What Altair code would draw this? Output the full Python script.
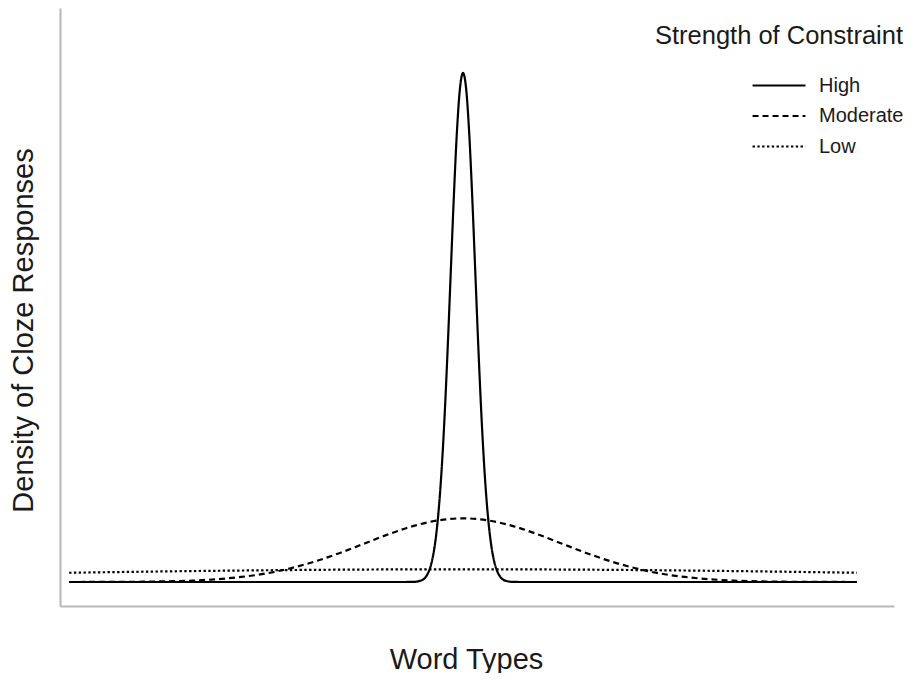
import altair as alt
import pandas as pd

# Series (x in "word type" units, y in density units)
high_x = [-32, -8, -5, -4, -3.5, -3, -2.75, -2.5, -2.25, -2, -1.75, -1.5, -1.25, -1, -0.75, -0.5, -0.25,
          0, 0.25, 0.5, 0.75, 1, 1.25, 1.5, 1.75, 2, 2.25, 2.5, 2.75, 3, 3.5, 4, 5, 8, 32]
high_y = [0.0, 0.0, 0.0, 0.00013, 0.00087, 0.0044, 0.0091, 0.0175, 0.0317, 0.0540, 0.0863, 0.1295, 0.1826,
          0.2420, 0.3011, 0.3521, 0.3867,
          0.3989, 0.3867, 0.3521, 0.3011, 0.2420, 0.1826, 0.1295, 0.0863, 0.0540, 0.0317, 0.0175, 0.0091,
          0.0044, 0.00087, 0.00013, 0.0, 0.0, 0.0]

moderate_x = [-32, -30, -28, -26, -24, -22, -20, -18, -16, -14, -12, -10, -8, -6, -4, -2,
              0, 2, 4, 6, 8, 10, 12, 14, 16, 18, 20, 22, 24, 26, 28, 30, 32]
moderate_y = [0.00002, 0.00004, 0.00011, 0.00025, 0.00055, 0.0011, 0.0022, 0.0040, 0.0067, 0.0108,
              0.0162, 0.0228, 0.0302, 0.0376, 0.0440, 0.0483,
              0.0499, 0.0483, 0.0440, 0.0376, 0.0302, 0.0228, 0.0162, 0.0108, 0.0067, 0.0040,
              0.0022, 0.0011, 0.00055, 0.00025, 0.00011, 0.00004, 0.00002]

low_x = [-32, -24, -16, -8, 0, 8, 16, 24, 32]
low_y = [0.00724, 0.00833, 0.00920, 0.00977, 0.00997, 0.00977, 0.00920, 0.00833, 0.00724]

series_names = ["High", "Moderate", "Low"]

rows = []
for name, xs, ys in [("High", high_x, high_y), ("Moderate", moderate_x, moderate_y), ("Low", low_x, low_y)]:
    for xv, yv in zip(xs, ys):
        rows.append({"x": xv, "y": yv, "series": name})
df = pd.DataFrame(rows)

FONT = "Liberation Sans"
TEXT = "#1a1a1a"
AXIS_GRAY = "#b7b7b7"

chart = alt.Chart(df).mark_line(
    color="black", strokeWidth=2.2, interpolate="monotone"
).encode(
    x=alt.X("x:Q",
            scale=alt.Scale(domain=[-32.74, 35.01], nice=False, zero=False),
            axis=alt.Axis(title="Word Types", domain=True, domainColor=AXIS_GRAY, domainWidth=2,
                          ticks=False, labels=False, grid=False,
                          titleFont=FONT, titleFontSize=29, titleFontWeight="normal", titleColor=TEXT,
                          titleX=406, titleY=62, titleBaseline="alphabetic", titleAlign="center")),
    y=alt.Y("y:Q",
            scale=alt.Scale(domain=[-0.0188, 0.4498], nice=False, zero=False),
            axis=alt.Axis(title="Density of Cloze Responses", domain=True, domainColor=AXIS_GRAY,
                          domainWidth=2, ticks=False, labels=False, grid=False,
                          titleFont=FONT, titleFontSize=29, titleFontWeight="normal", titleColor=TEXT,
                          titleX=-28, titleY=322, titleBaseline="alphabetic", titleAlign="center")),
    strokeDash=alt.StrokeDash(
        "series:N",
        sort=series_names,
        scale=alt.Scale(domain=series_names, range=[[1, 0], [6, 4], [2.4, 2.4]]),
        legend=alt.Legend(
            title="Strength of Constraint", orient="none", legendX=595, legendY=16,
            titleFont=FONT, titleFontSize=25.5, titleFontWeight="normal", titleColor=TEXT,
            titleAnchor="end", titlePadding=26, titleLimit=400,
            labelFont=FONT, labelFontSize=20, labelColor=TEXT, labelOffset=30, labelLimit=300,
            symbolType="M-5,0L5,0", symbolSize=112, symbolStrokeWidth=2.2, symbolStrokeColor="black",
            rowPadding=10.5, padding=0),
    ),
).properties(
    width=834, height=598,
    padding={"left": 52, "top": 0, "right": 13, "bottom": 67},
    autosize="none",
).configure_view(stroke=None)

chart.save("out.html", embed_options={"renderer": "svg", "actions": False})
